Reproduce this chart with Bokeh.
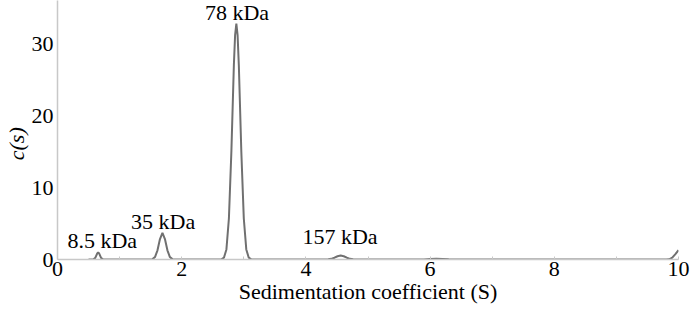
from bokeh.plotting import figure
from bokeh.models import Range1d, FixedTicker, ColumnDataSource
from bokeh.core.properties import value
from bokeh.embed import file_html
from bokeh.resources import INLINE

# Sedimentation coefficient (S) and c(s) values
s_values = [0.50, 0.55, 0.58, 0.61, 0.64, 0.655, 0.67, 0.70, 0.73, 0.76, 0.80,
            1.00, 1.20, 1.40, 1.50, 1.53, 1.57, 1.61, 1.65, 1.69, 1.73, 1.77,
            1.81, 1.85, 1.89, 2.00, 2.30, 2.60, 2.64, 2.68, 2.72, 2.76, 2.80,
            2.84, 2.86, 2.88, 2.90, 2.92, 2.96, 3.00, 3.04, 3.08, 3.12, 3.16,
            3.40, 3.80, 4.20, 4.36, 4.41, 4.46, 4.51, 4.56, 4.61, 4.66, 4.71,
            4.76, 4.85, 5.20, 5.70, 5.90, 6.00, 6.10, 6.20, 6.30, 6.50, 7.00,
            8.00, 9.00, 9.80, 9.85, 9.90, 9.95, 10.00]
c_values = [0.0, 0.0, 0.02, 0.25, 0.85, 1.0, 0.85, 0.25, 0.02, 0.0, 0.0,
            0.0, 0.0, 0.0, 0.0, 0.05, 0.34, 1.28, 2.84, 3.7, 2.84, 1.28,
            0.34, 0.05, 0.0, 0.0, 0.0, 0.0, 0.03, 0.25, 1.4, 5.7, 15.0,
            27.0, 31.2, 32.8, 31.2, 27.0, 15.0, 5.7, 1.4, 0.25, 0.03, 0.0,
            0.0, 0.0, 0.0, 0.02, 0.09, 0.25, 0.45, 0.55, 0.45, 0.25, 0.09,
            0.02, 0.0, 0.0, 0.0, 0.0, 0.08, 0.1, 0.08, 0.02, 0.0, 0.0,
            0.0, 0.0, 0.0, 0.02, 0.25, 0.75, 1.3]

peak_labels = ["8.5 kDa", "35 kDa", "78 kDa", "157 kDa"]
label_s = [0.72, 1.70, 2.89, 4.55]
label_c = [2.6, 5.3, 34.4, 3.2]

x_ticks = [0, 2, 4, 6, 8, 10]
y_ticks = [0, 10, 20, 30]

FONT = "Liberation Serif"
AXIS_COLOR = "#c8c8c8"
CURVE_COLOR = "#707070"

p = figure(width=692, height=311,
           output_backend="svg", toolbar_location=None,
           x_range=Range1d(0, 10), y_range=Range1d(0, 36),
           min_border_left=57, min_border_right=14, min_border_top=0,
           min_border_bottom=52)

p.outline_line_color = None
p.grid.visible = False
p.background_fill_color = "white"
p.border_fill_color = "white"

p.line(s_values, c_values, line_color=CURVE_COLOR, line_width=2)

src = ColumnDataSource(dict(x=label_s, y=label_c, t=peak_labels))
p.text(x="x", y="y", text="t", source=src, text_align="center",
       text_baseline="alphabetic", text_font=value(FONT),
       text_font_size="22px", text_color="black")

xa = p.xaxis[0]
xa.ticker = FixedTicker(ticks=x_ticks, minor_ticks=[1, 3, 5, 7, 9])
xa.axis_line_color = AXIS_COLOR
xa.axis_line_width = 1.5
xa.major_tick_in = 3
xa.major_tick_out = 0
xa.minor_tick_in = 3
xa.minor_tick_out = 0
xa.major_tick_line_color = AXIS_COLOR
xa.minor_tick_line_color = AXIS_COLOR
xa.major_label_text_font = FONT
xa.major_label_text_font_size = "22px"
xa.major_label_text_color = "black"
xa.major_label_standoff = 2
xa.axis_label = "Sedimentation coefficient (S)"
xa.axis_label_text_font = FONT
xa.axis_label_text_font_size = "22px"
xa.axis_label_text_font_style = "normal"
xa.axis_label_text_color = "black"
xa.axis_label_standoff = 0

ya = p.yaxis[0]
ya.ticker = FixedTicker(ticks=y_ticks)
ya.axis_line_color = AXIS_COLOR
ya.axis_line_width = 1.5
ya.major_tick_in = 0
ya.major_tick_out = 0
ya.minor_tick_in = 0
ya.minor_tick_out = 0
ya.major_label_text_font = FONT
ya.major_label_text_font_size = "22px"
ya.major_label_text_color = "black"
ya.major_label_standoff = 4
ya.axis_label = "c(s)\u00a0\u00a0\u00a0\u00a0\u00a0"
ya.axis_label_text_font = FONT
ya.axis_label_text_font_size = "22px"
ya.axis_label_text_font_style = "italic"
ya.axis_label_text_color = "black"
ya.axis_label_standoff = 0

open("out.html", "w").write(file_html(p, INLINE))
